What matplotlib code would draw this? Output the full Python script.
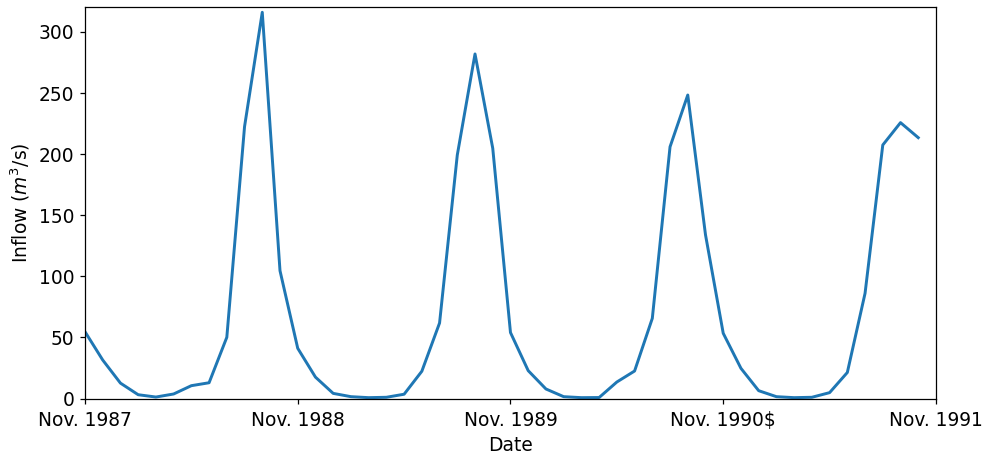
import matplotlib
matplotlib.use("Agg")
import matplotlib.pyplot as plt
import numpy as np

# Monthly inflow, Nov. 1987 onward (m^3/s)
inflow = [
    54.7, 31.5, 12.6, 3.1, 1.2, 3.7, 10.5, 12.9, 50.1, 222.5, 316.1, 104.6,
    41.1, 17.5, 4.2, 1.5, 0.7, 1.0, 3.5, 22.3, 61.8, 199.3, 282.0, 204.8,
    54.0, 22.8, 7.8, 1.5, 0.7, 0.8, 13.5, 22.5, 65.6, 206.0, 248.4, 134.0,
    53.4, 24.7, 6.4, 1.5, 0.7, 1.0, 4.8, 21.3, 86.1, 207.5, 225.8, 213.5,
]
tick_months = [0, 12, 24, 36, 48]
tick_labels = ["Nov. 1987", "Nov. 1988", "Nov. 1989", "Nov. 1990$", "Nov. 1991"]
y_ticks = [0, 50, 100, 150, 200, 250, 300]

plt.rcParams["font.size"] = 12

DPI = 111.6
fig = plt.figure(figsize=(987 / DPI, 458 / DPI), dpi=DPI)
ax = fig.add_axes([0.0861, 0.1299, 0.9483 - 0.0861, 0.9854 - 0.1299])

months = np.arange(len(inflow))
ax.plot(months, inflow, color="#1f77b4", linewidth=1.9)

ax.set_xlim(0, 48)
ax.set_ylim(0, 320.7)
ax.set_xticks(tick_months)
ax.set_xticklabels([t.replace("$", r"\$") for t in tick_labels], va="baseline")
ax.tick_params(axis="x", pad=14.0)
ax.set_yticks(y_ticks)
ax.set_xlabel("Date")
ax.set_ylabel("Inflow ($m^3$/s)")

fig.savefig("out.png", dpi=DPI)
